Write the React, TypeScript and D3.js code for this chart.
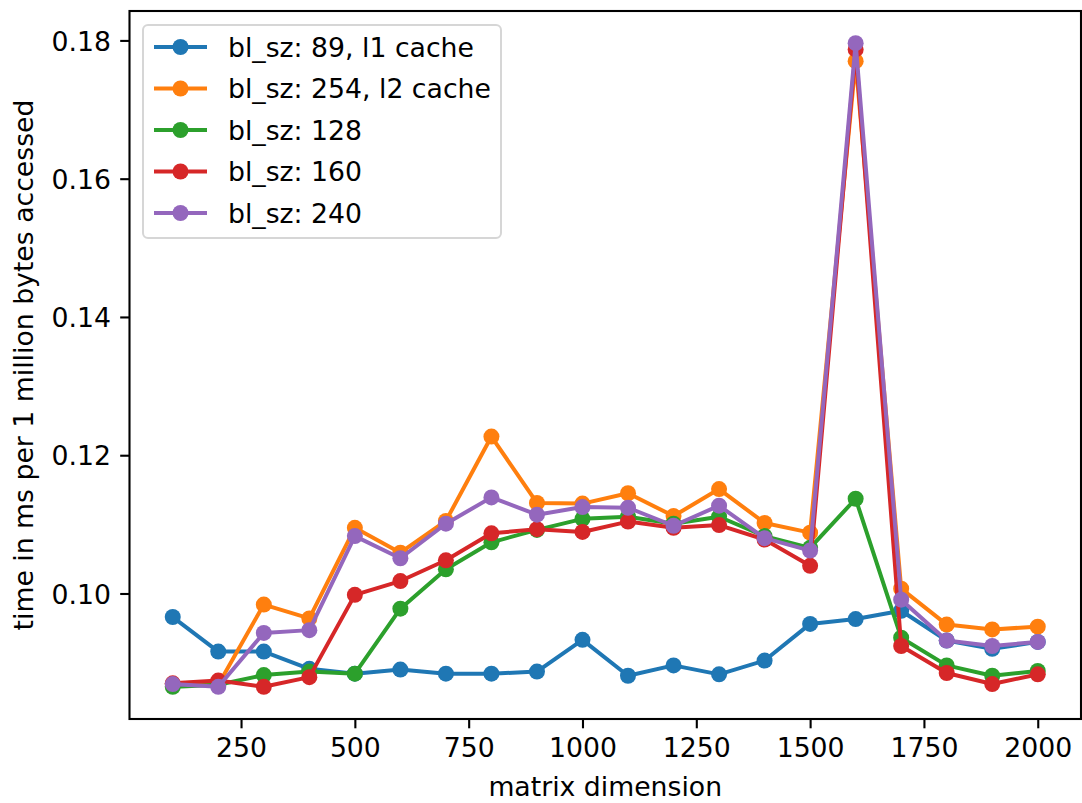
import React, {useEffect, useRef} from "react";
import * as d3 from "d3";

// matrix dimension (x)
const dims = [100, 200, 300, 400, 500, 600, 700, 800, 900, 1000, 1100, 1200, 1300, 1400, 1500, 1600, 1700, 1800, 1900, 2000];

// time in ms per 1 million bytes accessed, per block size
const bl89 = [0.0966, 0.0916, 0.0916, 0.0891, 0.0884, 0.089, 0.0884, 0.0884, 0.0887, 0.0933, 0.0881, 0.0896, 0.0883, 0.0903, 0.0956, 0.0963, 0.0975, 0.0932, 0.092, 0.093];
const bl254 = [0.0869, 0.0868, 0.0984, 0.0964, 0.1095, 0.1059, 0.1105, 0.1227, 0.1131, 0.113, 0.1145, 0.1112, 0.1151, 0.1102, 0.1088, 0.177, 0.1007, 0.0955, 0.0948, 0.0952];
const bl128 = [0.0865, 0.0868, 0.0882, 0.0887, 0.0884, 0.0978, 0.1035, 0.1074, 0.1092, 0.1108, 0.1111, 0.1101, 0.1111, 0.1083, 0.1066, 0.1137, 0.0936, 0.0896, 0.0881, 0.0888];
const bl160 = [0.087, 0.0874, 0.0865, 0.0879, 0.0998, 0.1018, 0.1048, 0.1087, 0.1093, 0.1089, 0.1104, 0.1095, 0.1099, 0.1078, 0.104, 0.1787, 0.0924, 0.0885, 0.0869, 0.0883];
const bl240 = [0.0869, 0.0865, 0.0943, 0.0947, 0.1083, 0.1051, 0.1101, 0.1139, 0.1114, 0.1125, 0.1124, 0.1098, 0.1127, 0.108, 0.1062, 0.1796, 0.0991, 0.0932, 0.0924, 0.093];

const seriesLabels = ["bl_sz: 89, l1 cache", "bl_sz: 254, l2 cache", "bl_sz: 128", "bl_sz: 160", "bl_sz: 240"];
const seriesValues = [bl89, bl254, bl128, bl160, bl240];
const colors = ["#1f77b4", "#ff7f0e", "#2ca02c", "#d62728", "#9467bd"];

const xTicks = [250, 500, 750, 1000, 1250, 1500, 1750, 2000];
const yTicks = [0.1, 0.12, 0.14, 0.16, 0.18];

const W = 1082;
const H = 803;
const FONT = "DejaVu Sans, sans-serif";
const FS = 26.7;

const App: React.FC = () => {
	const svgRef = useRef<SVGSVGElement>(null);

	useEffect(() => {
		const svg = d3.select(svgRef.current);
		svg.selectAll("*").remove();

		const left = 129.5;
		const right = 1081;
		const top = 11;
		const bottom = 719;

		// matplotlib style 5% margins
		const xMin = d3.min(dims) as number;
		const xMax = d3.max(dims) as number;
		const xPad = (xMax - xMin) * 0.05;
		const all = seriesValues.flat();
		const yMin = d3.min(all) as number;
		const yMax = d3.max(all) as number;
		const yPad = (yMax - yMin) * 0.05;

		const x = d3.scaleLinear().domain([xMin - xPad, xMax + xPad]).range([left, right]);
		const y = d3.scaleLinear().domain([yMin - yPad, yMax + yPad]).range([bottom, top]);

		// axes
		const xAxis = svg
			.append("g")
			.attr("transform", `translate(0, ${bottom})`)
			.call(d3.axisBottom(x).tickValues(xTicks).tickSize(9.3).tickPadding(9).tickFormat(d3.format("d")));
		const yAxis = svg
			.append("g")
			.attr("transform", `translate(${left}, 0)`)
			.call(d3.axisLeft(y).tickValues(yTicks).tickSize(9.3).tickPadding(9.3).tickFormat(d3.format(".2f")));

		[xAxis, yAxis].forEach((a) => {
			a.select(".domain").remove();
			a.selectAll(".tick line").attr("stroke", "#000").attr("stroke-width", 2.1);
			a.selectAll(".tick text")
				.attr("fill", "#000")
				.style("font-family", FONT)
				.style("font-size", `${FS}px`);
		});
		xAxis.selectAll(".tick text").attr("dy", "0.72em");
		yAxis.selectAll(".tick text").attr("dy", "0.36em");

		// series
		const line = d3
			.line<number>()
			.x((_, i) => x(dims[i]))
			.y((d) => y(d));

		seriesValues.forEach((vals, si) => {
			const g = svg.append("g");
			g.append("path")
				.datum(vals)
				.attr("d", line)
				.attr("fill", "none")
				.attr("stroke", colors[si])
				.attr("stroke-width", 4)
				.attr("stroke-linejoin", "round")
				.attr("stroke-linecap", "square");
			g.selectAll("circle")
				.data(vals)
				.enter()
				.append("circle")
				.attr("cx", (_, i) => x(dims[i]))
				.attr("cy", (d) => y(d))
				.attr("r", 8)
				.attr("fill", colors[si]);
		});

		// frame
		svg.append("rect")
			.attr("x", left)
			.attr("y", top)
			.attr("width", right - left)
			.attr("height", bottom - top)
			.attr("fill", "none")
			.attr("stroke", "#000")
			.attr("stroke-width", 2.1);

		// axis labels
		svg.append("text")
			.attr("x", (left + right) / 2)
			.attr("y", 796)
			.attr("text-anchor", "middle")
			.style("font-family", FONT)
			.style("font-size", `${FS}px`)
			.text("matrix dimension");

		svg.append("text")
			.attr("transform", `translate(33, ${(top + bottom) / 2}) rotate(-90)`)
			.attr("text-anchor", "middle")
			.style("font-family", FONT)
			.style("font-size", `${FS}px`)
			.text("time in ms per 1 million bytes accessed");

		// legend
		const lg = svg.append("g").attr("transform", "translate(143, 25)");
		lg.append("rect")
			.attr("width", 358)
			.attr("height", 213)
			.attr("rx", 5)
			.attr("fill", "#fff")
			.attr("fill-opacity", 0.8)
			.attr("stroke", "#d6d6d6")
			.attr("stroke-width", 2);

		const items = lg
			.selectAll(".legend-item")
			.data(seriesLabels)
			.enter()
			.append("g")
			.attr("class", "legend-item")
			.attr("transform", (_, i) => `translate(0, ${22 + i * 41.5})`);

		items.append("line")
			.attr("x1", 11)
			.attr("x2", 64)
			.attr("stroke", (_, i) => colors[i])
			.attr("stroke-width", 4);
		items.append("circle")
			.attr("cx", 37.5)
			.attr("r", 8)
			.attr("fill", (_, i) => colors[i]);
		items.append("text")
			.attr("x", 85)
			.attr("dy", "0.36em")
			.style("font-family", FONT)
			.style("font-size", `${FS}px`)
			.attr("fill", "#000")
			.text((d) => d);
	}, []);

	return (
		<svg
			ref={svgRef}
			width={W}
			height={H}
			style={{position: "absolute", left: 0, top: 0, background: "#fff"}}
		/>
	);
};

export default App;
